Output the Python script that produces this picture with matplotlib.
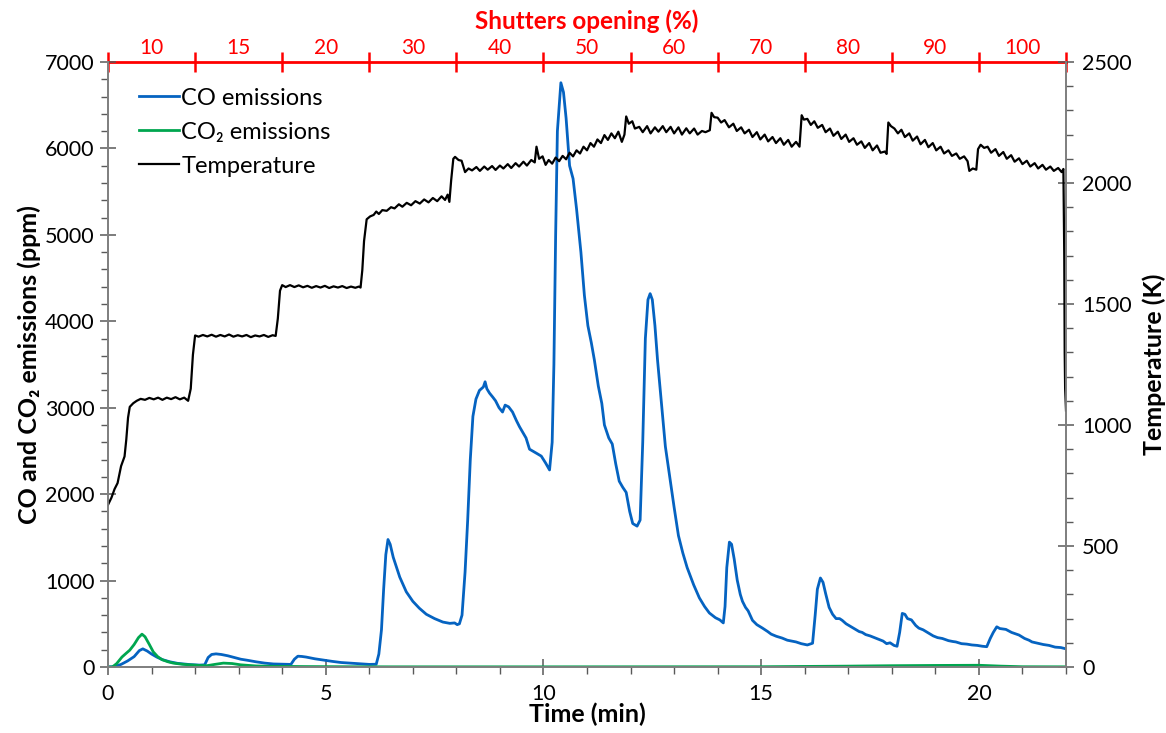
import matplotlib
matplotlib.use("Agg")
import matplotlib.pyplot as plt
from matplotlib.ticker import MultipleLocator

plt.rcParams['font.family'] = ['Lato', 'DejaVu Sans']

# ---------------- data ----------------
co_t = [0.00, 0.15, 0.30, 0.45, 0.60, 0.72, 0.80, 0.90, 1.00, 1.12, 1.25, 1.42, 1.60, 1.88, 2.10, 2.22,
        2.30, 2.38, 2.48, 2.60, 2.75, 2.90, 3.05, 3.20, 3.40, 3.60, 3.80, 4.00, 4.20, 4.28, 4.36, 4.45,
        4.55, 4.75, 4.95, 5.15, 5.35, 5.55, 5.80, 6.00, 6.16, 6.22, 6.28, 6.33, 6.38, 6.43, 6.48, 6.55,
        6.70, 6.85, 7.00, 7.15, 7.31, 7.50, 7.69, 7.85, 7.96, 8.02, 8.07, 8.13, 8.20, 8.26, 8.32, 8.38,
        8.45, 8.53, 8.62, 8.66, 8.70, 8.76, 8.84, 8.90, 8.98, 9.06, 9.12, 9.20, 9.29, 9.38, 9.45, 9.52,
        9.60, 9.68, 9.75, 9.85, 9.95, 10.05, 10.14, 10.20, 10.24, 10.28, 10.32, 10.40, 10.46, 10.52,
        10.60, 10.68, 10.76, 10.86, 10.94, 11.02, 11.10, 11.17, 11.26, 11.34, 11.40, 11.50, 11.58,
        11.66, 11.74, 11.82, 11.90, 11.98, 12.05, 12.15, 12.22, 12.28, 12.34, 12.40, 12.45, 12.50,
        12.56, 12.62, 12.70, 12.80, 12.90, 13.00, 13.10, 13.20, 13.30, 13.45, 13.58, 13.70, 13.81,
        13.95, 14.05, 14.13, 14.17, 14.21, 14.27, 14.32, 14.38, 14.45, 14.52, 14.57, 14.64, 14.70,
        14.80, 14.90, 15.03, 15.15, 15.23, 15.35, 15.48, 15.60, 15.70, 15.80, 15.92, 16.06, 16.18,
        16.24, 16.29, 16.36, 16.42, 16.48, 16.56, 16.64, 16.72, 16.80, 16.86, 16.95, 17.05, 17.15,
        17.25, 17.32, 17.40, 17.50, 17.60, 17.70, 17.80, 17.88, 17.96, 18.05, 18.12, 18.18, 18.24,
        18.30, 18.36, 18.45, 18.55, 18.62, 18.72, 18.85, 18.95, 19.05, 19.16, 19.30, 19.40, 19.47,
        19.60, 19.72, 19.84, 19.96, 20.08, 20.18, 20.26, 20.33, 20.41, 20.48, 20.56, 20.62, 20.75,
        20.92, 21.05, 21.15, 21.22, 21.35, 21.48, 21.61, 21.75, 21.88, 22.00]
co_ppm = [0, 5, 30, 70, 120, 190, 210, 185, 150, 115, 85, 60, 42, 28, 22, 25,
          110, 145, 152, 145, 130, 110, 90, 78, 60, 45, 35, 32, 30, 90, 125, 122,
          115, 95, 80, 65, 52, 45, 35, 30, 32, 150, 430, 900, 1300, 1475, 1420, 1270,
          1040, 870, 760, 680, 610, 560, 520, 505, 510, 490, 500, 600, 1100, 1700, 2400, 2900,
          3100, 3200, 3240, 3300, 3220, 3170, 3120, 3080, 3000, 2950, 3030, 3010, 2950, 2850, 2780, 2720,
          2650, 2520, 2500, 2470, 2440, 2360, 2280, 2600, 3500, 5000, 6200, 6760, 6650, 6350,
          5800, 5650, 5300, 4800, 4300, 3950, 3750, 3550, 3250, 3050, 2800, 2650, 2580,
          2350, 2150, 2080, 2020, 1800, 1660, 1630, 1700, 2600, 3800, 4250, 4320, 4250,
          3950, 3550, 3100, 2550, 2200, 1850, 1520, 1320, 1150, 950, 800, 700, 625,
          570, 545, 510, 700, 1150, 1445, 1420, 1250, 1005, 840, 760, 690, 650,
          540, 490, 450, 410, 380, 355, 335, 310, 300, 290, 270, 255, 275,
          600, 900, 1030, 980, 850, 690, 610, 560, 560, 540, 500, 470, 440,
          410, 400, 375, 360, 340, 320, 300, 270, 280, 250, 240, 400, 620,
          610, 560, 545, 480, 450, 430, 390, 360, 340, 330, 305, 295, 290,
          270, 265, 255, 250, 240, 235, 330, 400, 465, 445, 440, 435, 400,
          370, 330, 310, 290, 275, 260, 250, 230, 225, 210]

co2_t = [0.00, 0.10, 0.20, 0.32, 0.42, 0.50, 0.60, 0.70, 0.78, 0.85, 0.95, 1.04, 1.14, 1.24, 1.38,
         1.50, 1.70, 1.88, 2.10, 2.27, 2.45, 2.65, 2.85, 3.05, 3.40, 3.80, 4.50, 5.50, 6.50, 10.0,
         15.0, 17.0, 18.0, 19.0, 20.0, 20.5, 21.0, 22.0]
co2_ppm = [0, 0, 40, 115, 160, 195, 260, 340, 380, 350, 260, 175, 120, 85, 60,
           45, 32, 25, 18, 15, 30, 45, 40, 25, 12, 8, 5, 3, 2, 2,
           3, 10, 15, 18, 20, 10, 3, 2]

temp_t = [0.00, 0.08, 0.15, 0.22, 0.30, 0.38, 0.42, 0.46, 0.50, 0.58, 0.66, 0.75, 0.85, 0.95, 1.05,
          1.15, 1.25, 1.35, 1.45, 1.55, 1.65, 1.75, 1.84, 1.90, 1.95, 2.00, 2.08, 2.18, 2.28, 2.38,
          2.48, 2.58, 2.68, 2.78, 2.88, 2.98, 3.08, 3.18, 3.28, 3.38, 3.48, 3.58, 3.68, 3.78, 3.85,
          3.90, 3.95, 4.00, 4.08, 4.18, 4.28, 4.38, 4.48, 4.58, 4.68, 4.78, 4.88, 4.98, 5.08, 5.18,
          5.28, 5.38, 5.48, 5.58, 5.68, 5.76, 5.80, 5.84, 5.88, 5.94, 6.02, 6.10, 6.16, 6.22, 6.30,
          6.40, 6.50, 6.58, 6.68, 6.76, 6.86, 6.96, 7.06, 7.16, 7.26, 7.36, 7.46, 7.56, 7.66, 7.74,
          7.80, 7.84, 7.88, 7.93, 7.97, 8.05, 8.12, 8.20, 8.28, 8.36, 8.46, 8.54, 8.64, 8.72, 8.82,
          8.90, 9.00, 9.08, 9.18, 9.26, 9.36, 9.44, 9.54, 9.62, 9.72, 9.80, 9.84, 9.90, 9.98, 10.05,
          10.12, 10.20, 10.28, 10.36, 10.44, 10.52, 10.60, 10.68, 10.76, 10.84, 10.92, 11.00, 11.08,
          11.16, 11.24, 11.32, 11.40, 11.48, 11.56, 11.64, 11.72, 11.80, 11.86, 11.90, 11.96, 12.04,
          12.10, 12.20, 12.28, 12.38, 12.46, 12.56, 12.64, 12.74, 12.82, 12.92, 13.00, 13.10, 13.18,
          13.28, 13.36, 13.46, 13.54, 13.64, 13.72, 13.82, 13.86, 13.92, 14.00, 14.08, 14.16, 14.26,
          14.36, 14.44, 14.54, 14.62, 14.72, 14.80, 14.90, 14.98, 15.08, 15.16, 15.26, 15.34, 15.44,
          15.52, 15.62, 15.70, 15.80, 15.88, 15.93, 15.98, 16.06, 16.14, 16.22, 16.30, 16.40, 16.48,
          16.58, 16.66, 16.76, 16.84, 16.94, 17.02, 17.12, 17.20, 17.30, 17.38, 17.48, 17.56, 17.66,
          17.74, 17.84, 17.88, 17.92, 17.98, 18.06, 18.14, 18.22, 18.30, 18.40, 18.48, 18.58, 18.66,
          18.76, 18.84, 18.94, 19.02, 19.12, 19.20, 19.30, 19.38, 19.48, 19.56, 19.66, 19.74, 19.78,
          19.86, 19.94, 19.98, 20.04, 20.12, 20.20, 20.28, 20.38, 20.46, 20.56, 20.64, 20.74, 20.82,
          20.92, 21.00, 21.10, 21.18, 21.28, 21.36, 21.46, 21.54, 21.64, 21.72, 21.82, 21.90, 21.94,
          21.96, 21.97, 21.98, 22.00]
temp_K = [670, 700, 735, 760, 830, 870, 940, 1030, 1075, 1090, 1100, 1108, 1104, 1112, 1106,
          1113, 1104, 1113, 1107, 1115, 1106, 1113, 1100, 1150, 1290, 1370, 1365, 1372, 1366, 1373,
          1365, 1372, 1366, 1374, 1365, 1371, 1366, 1372, 1363, 1370, 1366, 1372, 1364, 1371, 1368,
          1440, 1555, 1578, 1570, 1578, 1570, 1577, 1569, 1575, 1567, 1574, 1568, 1575, 1566, 1573,
          1568, 1574, 1566, 1572, 1567, 1572, 1568, 1640, 1760, 1850, 1862, 1868, 1882, 1872, 1888,
          1885, 1900, 1895, 1912, 1902, 1918, 1908, 1925, 1915, 1932, 1920, 1938, 1925, 1945, 1930,
          1952, 1922, 2010, 2100, 2108, 2095, 2092, 2045, 2060, 2052, 2066, 2050, 2068, 2055, 2070,
          2054, 2072, 2060, 2078, 2062, 2082, 2068, 2088, 2072, 2095, 2085, 2150, 2100, 2110, 2075,
          2095, 2080, 2105, 2090, 2112, 2098, 2125, 2110, 2135, 2122, 2150, 2135, 2165,
          2150, 2180, 2165, 2198, 2178, 2205, 2185, 2212, 2170, 2200, 2275, 2245, 2255,
          2225, 2232, 2210, 2235, 2205, 2230, 2212, 2235, 2210, 2232, 2205, 2230, 2200,
          2226, 2205, 2225, 2200, 2215, 2210, 2218, 2290, 2272, 2270, 2250, 2260, 2230,
          2245, 2215, 2230, 2205, 2220, 2190, 2210, 2180, 2200, 2172, 2190, 2165, 2185,
          2158, 2178, 2150, 2170, 2150, 2280, 2262, 2265, 2240, 2255, 2228, 2240, 2210,
          2225, 2195, 2212, 2182, 2200, 2170, 2185, 2158, 2172, 2145, 2165, 2135, 2155,
          2125, 2130, 2120, 2250, 2235, 2225, 2205, 2220, 2190, 2205, 2175, 2192, 2160,
          2178, 2148, 2165, 2135, 2150, 2122, 2135, 2112, 2122, 2100, 2110, 2090, 2050,
          2060, 2055, 2140, 2158, 2145, 2150, 2125, 2140, 2112, 2128, 2100, 2115, 2088,
          2102, 2078, 2092, 2068, 2082, 2060, 2075, 2055, 2068, 2050, 2062, 2045, 2058,
          1700, 1300, 1150, 1060]

shutter_edges = [0, 2, 4, 6, 8, 10, 12, 14, 16, 18, 20, 22]
shutter_centers = [1, 3, 5, 7, 9, 11, 13, 15, 17, 19, 21]
shutter_labels = ['10', '15', '20', '30', '40', '50', '60', '70', '80', '90', '100']

# ---------------- figure ----------------
W, H = 1166, 733
fig = plt.figure(figsize=(W / 100, H / 100), dpi=100)
ax = fig.add_axes([108 / W, 66 / H, (1066 - 108) / W, (667 - 62) / H])
ax2 = ax.twinx()

blue = '#0563C1'
green = '#00A64F'
gray = '#808080'
tickc = '#595959'

l1, = ax.plot(co_t, co_ppm, color=blue, lw=2.0, label='CO emissions', zorder=3)
l2, = ax.plot(co2_t, co2_ppm, color=green, lw=2.0, label='CO₂ emissions', zorder=4)
l3, = ax2.plot(temp_t, temp_K, color='black', lw=1.6, label='Temperature')

ax.set_xlim(0, 22)
ax.set_ylim(0, 7000)
ax2.set_ylim(0, 2500)

ax.xaxis.set_major_locator(MultipleLocator(5))
ax.xaxis.set_minor_locator(MultipleLocator(1))
ax.yaxis.set_major_locator(MultipleLocator(1000))
ax.yaxis.set_minor_locator(MultipleLocator(200))
ax2.yaxis.set_major_locator(MultipleLocator(500))
ax2.yaxis.set_minor_locator(MultipleLocator(100))

for a in (ax, ax2):
    a.spines['top'].set_visible(False)
    for s in ('left', 'right', 'bottom'):
        a.spines[s].set_color(gray)
        a.spines[s].set_linewidth(1.3)

ax.tick_params(axis='both', which='major', direction='inout', length=11, width=1.1,
               color=tickc, labelsize=15.5, pad=4)
ax.tick_params(axis='both', which='minor', direction='out', length=5, width=1.0, color=tickc)
ax.tick_params(axis='x', which='major', pad=7)
ax2.tick_params(axis='y', which='major', direction='inout', length=11, width=1.1,
                color=tickc, labelsize=15.5, pad=6)
ax2.tick_params(axis='y', which='minor', direction='out', length=5, width=1.0, color=tickc)

ax.set_xlabel('Time (min)', fontsize=18, fontweight='bold', labelpad=-1)
ax.set_ylabel('CO and CO₂ emissions (ppm)', fontsize=18, fontweight='bold', labelpad=3)
ax2.set_ylabel('Temperature (K)', fontsize=18, fontweight='bold', labelpad=8)

# top shutter-opening axis
sec = ax.secondary_xaxis('top')
sec.set_xticks(shutter_edges, labels=[''] * len(shutter_edges))
sec.set_xticks(shutter_centers, labels=shutter_labels, minor=True)
sec.tick_params(which='major', direction='inout', length=14, width=1.8, color='red')
sec.tick_params(which='minor', length=0, labelcolor='red', labelsize=15, pad=3)
sec.spines['top'].set_color('red')
sec.spines['top'].set_linewidth(2.0)
sec.set_xlabel('Shutters opening (%)', color='red', fontsize=17.5, fontweight='bold', labelpad=6)

leg = ax2.legend(handles=[l1, l2, l3], loc='upper left', bbox_to_anchor=(0.015, 0.985),
                 frameon=False, fontsize=17, handlelength=1.7, handletextpad=0.1,
                 labelspacing=0.55, borderaxespad=0.3)

fig.savefig('out.png', dpi=100)
